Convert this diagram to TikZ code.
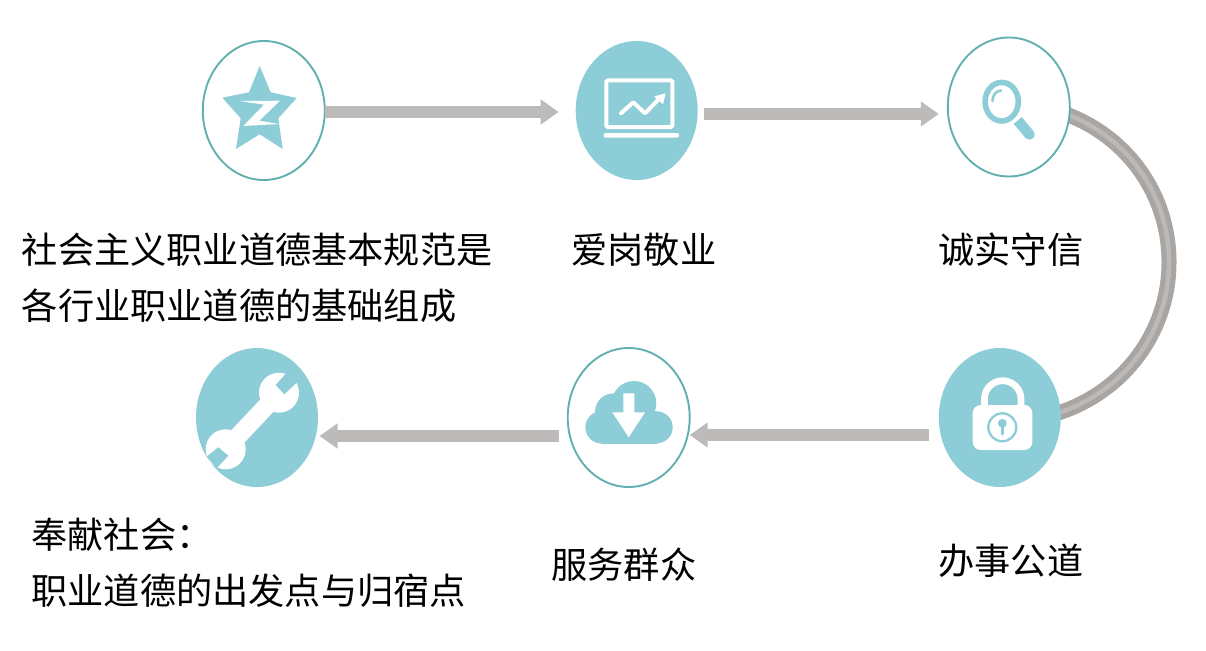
\documentclass[tikz,border=0pt]{standalone}
\usepackage{fontspec}
\setmainfont{Noto Sans CJK SC}
\usetikzlibrary{shapes.geometric,arrows.meta,calc,backgrounds}
\definecolor{teal}{HTML}{8DCDD7}
\definecolor{rim}{HTML}{62AFB0}
\definecolor{flowgray}{HTML}{BDBBB9}
\definecolor{arcdark}{HTML}{A9A5A2}
\definecolor{arclight}{HTML}{BDB9B7}
\tikzset{
  ring/.style={ellipse,draw=rim,line width=1.9pt,fill=white,inner sep=0pt,outer sep=0pt,minimum width=122pt,minimum height=139pt},
  disc/.style={ellipse,fill=teal,inner sep=0pt,outer sep=0pt,minimum width=122pt,minimum height=139pt},
  flow/.style={draw=flowgray,line width=12.5pt,-{Triangle[length=18pt,width=24pt]}},
  label/.style={anchor=west,inner sep=0pt,font=\fontsize{36.2pt}{36pt}\selectfont,text=black}
}
\begin{document}
\begin{tikzpicture}[x=1pt,y=-1pt]
\useasboundingbox (0,0) rectangle (1206,650);
% nodes
\node[ring] (e1) at (263.8,110.5) {};
\node[disc] (e2) at (636.7,110.5) {};
\node[ring] (e3) at (1008.8,107) {};
\node[disc] (e4) at (999.8,417.5) {};
\node[ring] (e5) at (628.7,417.5) {};
\node[disc] (e6) at (257,417.5) {};
% arc connector behind the circles
\begin{scope}[on background layer]
\path[draw=arcdark,line width=15pt] ($(e3.east)+(-4,7)$) .. controls (1129.4,137.9) and (1169,196.5) .. (1169,262) .. controls (1169,330.6) and (1125.4,391.4) .. ($(e4.east)+(-4,-4)$);
\path[draw=arclight,line width=4.5pt] ($(e3.east)+(-4,7)$) .. controls (1129.4,137.9) and (1169,196.5) .. (1169,262) .. controls (1169,330.6) and (1125.4,391.4) .. ($(e4.east)+(-4,-4)$);
\end{scope}
% straight connectors
\draw[flow] ($(e1.east)+(0,1.5)$) -- ($(e2.west)+(-17,1.5)$);
\draw[flow] ($(e2.east)+(6.5,3.5)$) -- ($(e3.west)+(-9,7)$);
\draw[flow] ($(e4.west)+(-10,17.5)$) -- ($(e5.east)+(0,17.5)$);
\draw[flow] ($(e5.west)+(-8.5,18.5)$) -- ($(e6.east)+(1.5,18.5)$);
% star icon
\fill[teal] (259.7,66)--(270.7,92.3)--(296.7,98)--(278.3,118.3)--(282.7,149)--(259.7,134.3)--(236,149)--(240.7,118.3)--(222.3,97.7)--(249,92.3)--cycle;
\fill[white] (240,101)--(280,100.7)--(259.3,120.7)--(279.3,124)--(243.3,126)--(264,104.7)--cycle;
% laptop icon
\draw[white,line width=4pt,rounded corners=1.5pt] (606.3,80.3) rectangle (672.3,127);
\fill[white,rounded corners=2pt] (603.7,133) rectangle (679,137.7);
\draw[white,line width=4pt,line cap=round,line join=round] (621,113.3)--(633.3,102.3)--(645,113.3)--(658,100);
\fill[white,line join=round,draw=white,line width=1pt] (655,96.7)--(665,94)--(662.7,103.3)--cycle;
% magnifier icon
\draw[teal,line width=5.6pt] (1001.7,101.7) ellipse [x radius=16.6,y radius=19.3];
\draw[teal,line width=2.6pt,line cap=round] (992.5,101) .. controls (992.5,95) and (996,91) .. (1001,90.5);
\draw[teal,line width=10.5pt] (1017.7,120.5) -- (1029.5,134.5);
\fill[teal] (1029.5,134.5) circle (5.25);
% lock icon
\draw[white,line width=6.7pt] (984.4,408) -- (984.4,399) arc[start angle=180,end angle=360,radius=18.3] -- (1021,408);
\fill[white,rounded corners=8pt] (972.7,405) rectangle (1032.3,450);
\draw[teal,line width=2.3pt] (1002.3,427.3) circle (14);
\fill[teal] (1002.3,423.3) circle (4.4);
\draw[teal,line width=3pt,line cap=round] (1002.3,425) -- (1002.3,434);
% cloud icon
\fill[teal] (634,403.3) circle (22.3) (613.3,411.7) circle (18.3) (601.7,427.3) circle (16.3) (656.7,427.3) circle (16);
\fill[teal] (601.7,411) rectangle (656.7,443.5);
\fill[white] (623.3,393.3)--(634.3,393.3)--(634.3,412.3)--(645,412.3)--(628.7,437.3)--(612.3,412.3)--(623.3,412.3)--cycle;
% wrench icon
\fill[white] (279,392.7) circle (20) (225.7,449.3) circle (20);
\draw[white,line width=18pt] (279,392.7) -- (225.7,449.3);
\fill[teal] (288.3,370.7)--(297.7,381.7)--(284.3,394.3)--(275.7,385)--cycle;
\fill[teal] (218.3,447.3)--(228.3,455.7)--(216.7,468.3)--(206.7,456.7)--cycle;
% labels
\node[label] (t1a) at (21.7,249.5) {社会主义职业道德基本规范是};
\node[label] (t1b) at (21.7,305.5) {各行业职业道德的基础组成};
\node[label] (t2) at (571.2,249.5) {爱岗敬业};
\node[label] (t3) at (938.2,249.5) {诚实守信};
\node[label] (t4) at (938.2,560.5) {办事公道};
\node[label] (t5) at (551.2,564.5) {服务群众};
\node[label] (t6a) at (31.2,534.5) {奉献社会：};
\node[label] (t6b) at (31.2,590.5) {职业道德的出发点与归宿点};
\end{tikzpicture}
\end{document}
